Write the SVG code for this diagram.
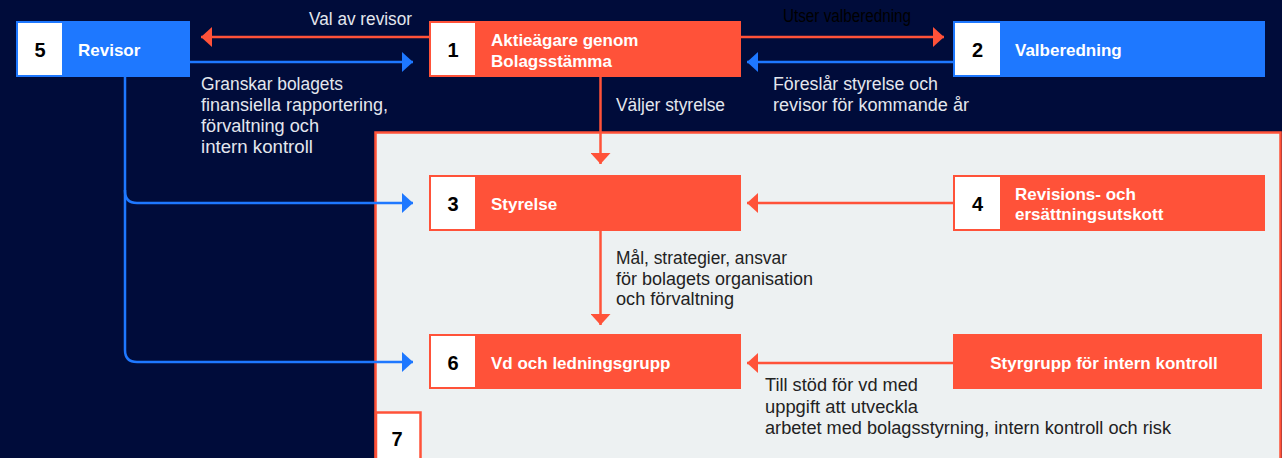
<svg xmlns="http://www.w3.org/2000/svg" width="1282" height="458" viewBox="0 0 1282 458">
<defs>
<style>
.lbl{font-family:"Liberation Sans",Arial,sans-serif;font-size:17px;font-weight:bold;fill:#ffffff}
.num{font-family:"Liberation Sans",Arial,sans-serif;font-size:20px;font-weight:bold;fill:#000000;text-anchor:middle}
.tl{font-family:"Liberation Sans",Arial,sans-serif;font-size:17.5px;fill:#E4E7EE}
.td{font-family:"Liberation Sans",Arial,sans-serif;font-size:17.5px;fill:#222222}
.red{fill:#FF5239}
.blue{fill:#1E78FF}
.sq{fill:#ffffff}
.lr{fill:none;stroke:#FF5239;stroke-width:2.5}
.lb{fill:none;stroke:#1E78FF;stroke-width:2.5}
</style>
<marker id="ar" viewBox="0 0 11 20" refX="11" refY="10" markerWidth="11" markerHeight="20" markerUnits="userSpaceOnUse" orient="auto"><path d="M0,0 L11,10 L0,20 Z" fill="#FF5239"/></marker>
<marker id="ab" viewBox="0 0 11 20" refX="11" refY="10" markerWidth="11" markerHeight="20" markerUnits="userSpaceOnUse" orient="auto"><path d="M0,0 L11,10 L0,20 Z" fill="#1E78FF"/></marker>
</defs>
<rect x="0" y="0" width="1282" height="458" fill="#000C3A"/>
<rect x="375.5" y="132.5" width="905" height="330" fill="#EDF1F2" stroke="#FF5239" stroke-width="2.5"/>

<g id="connectors">
<path class="lr" d="M429,37 H201" marker-end="url(#ar)"/>
<path class="lr" d="M741,37 H944" marker-end="url(#ar)"/>
<path class="lb" d="M190,62 H413" marker-end="url(#ab)"/>
<path class="lb" d="M953,62 H747" marker-end="url(#ab)"/>
<path class="lr" d="M600.5,77 V164" marker-end="url(#ar)"/>
<path class="lr" d="M953,203 H747" marker-end="url(#ar)"/>
<path class="lr" d="M600.5,231 V325" marker-end="url(#ar)"/>
<path class="lr" d="M953,363 H747" marker-end="url(#ar)"/>
<path class="lb" d="M125,77 V191 Q125,203 137,203 H413" marker-end="url(#ab)"/>
<path class="lb" d="M125,190 V350 Q125,362 137,362 H413" marker-end="url(#ab)"/>
</g>

<g id="edge-labels">
<text class="tl" x="309" y="25" textLength="103" lengthAdjust="spacingAndGlyphs">Val av revisor</text>
<text x="783" y="22" font-family="Liberation Sans, Arial, sans-serif" font-size="17.5" fill="#000000" textLength="128" lengthAdjust="spacingAndGlyphs">Utser valberedning</text>
<text class="tl" x="201" y="90" textLength="142" lengthAdjust="spacingAndGlyphs">Granskar bolagets</text>
<text class="tl" x="201" y="111" textLength="187" lengthAdjust="spacingAndGlyphs">finansiella rapportering,</text>
<text class="tl" x="201" y="132" textLength="118" lengthAdjust="spacingAndGlyphs">förvaltning och</text>
<text class="tl" x="201" y="153" textLength="112" lengthAdjust="spacingAndGlyphs">intern kontroll</text>
<text class="tl" x="616" y="111" textLength="109" lengthAdjust="spacingAndGlyphs">Väljer styrelse</text>
<text class="tl" x="773" y="90" textLength="165" lengthAdjust="spacingAndGlyphs">Föreslår styrelse och</text>
<text class="tl" x="773" y="111" textLength="196" lengthAdjust="spacingAndGlyphs">revisor för kommande år</text>
<text class="td" x="616" y="264" textLength="171" lengthAdjust="spacingAndGlyphs">Mål, strategier, ansvar</text>
<text class="td" x="616" y="285" textLength="197" lengthAdjust="spacingAndGlyphs">för bolagets organisation</text>
<text class="td" x="616" y="305" textLength="118" lengthAdjust="spacingAndGlyphs">och förvaltning</text>
<text class="td" x="765" y="391" textLength="153" lengthAdjust="spacingAndGlyphs">Till stöd för vd med</text>
<text class="td" x="765" y="413" textLength="153" lengthAdjust="spacingAndGlyphs">uppgift att utveckla</text>
<text class="td" x="765" y="434" textLength="406" lengthAdjust="spacingAndGlyphs">arbetet med bolagsstyrning, intern kontroll och risk</text>
</g>

<g id="node5">
<rect class="blue" x="16" y="21" width="174" height="56"/>
<rect class="sq" x="18" y="23" width="44" height="52"/>
<text class="num" x="40" y="57">5</text>
<text class="lbl" x="78" y="56">Revisor</text>
</g>

<g id="node1">
<rect class="red" x="429" y="21" width="312" height="56"/>
<rect class="sq" x="431" y="23" width="44" height="52"/>
<text class="num" x="453" y="57">1</text>
<text class="lbl" x="491" y="46">Aktieägare genom</text>
<text class="lbl" x="491" y="67">Bolagsstämma</text>
</g>

<g id="node2">
<rect class="blue" x="953" y="21" width="312" height="56"/>
<rect class="sq" x="955" y="23" width="45" height="52"/>
<text class="num" x="977.5" y="57">2</text>
<text class="lbl" x="1015" y="56">Valberedning</text>
</g>

<g id="node3">
<rect class="red" x="429" y="175" width="312" height="56"/>
<rect class="sq" x="431" y="177" width="44" height="52"/>
<text class="num" x="453" y="211">3</text>
<text class="lbl" x="491" y="210">Styrelse</text>
</g>

<g id="node4">
<rect class="red" x="953" y="175" width="312" height="56"/>
<rect class="sq" x="955" y="177" width="45" height="52"/>
<text class="num" x="977.5" y="211">4</text>
<text class="lbl" x="1015" y="200">Revisions- och</text>
<text class="lbl" x="1015" y="220">ersättningsutskott</text>
</g>

<g id="node6">
<rect class="red" x="429" y="334" width="312" height="55"/>
<rect class="sq" x="431" y="336" width="44" height="51"/>
<text class="num" x="453" y="370">6</text>
<text class="lbl" x="491" y="369">Vd och ledningsgrupp</text>
</g>

<g id="node-styrgrupp">
<rect class="red" x="953" y="334" width="309" height="55"/>
<text class="lbl" x="1104" y="369" text-anchor="middle">Styrgrupp för intern kontroll</text>
</g>

<g id="node7">
<rect x="376" y="412.5" width="44.5" height="50" fill="#ffffff" stroke="#FF5239" stroke-width="2.5"/>
<text class="num" x="397" y="446">7</text>
</g>
</svg>
